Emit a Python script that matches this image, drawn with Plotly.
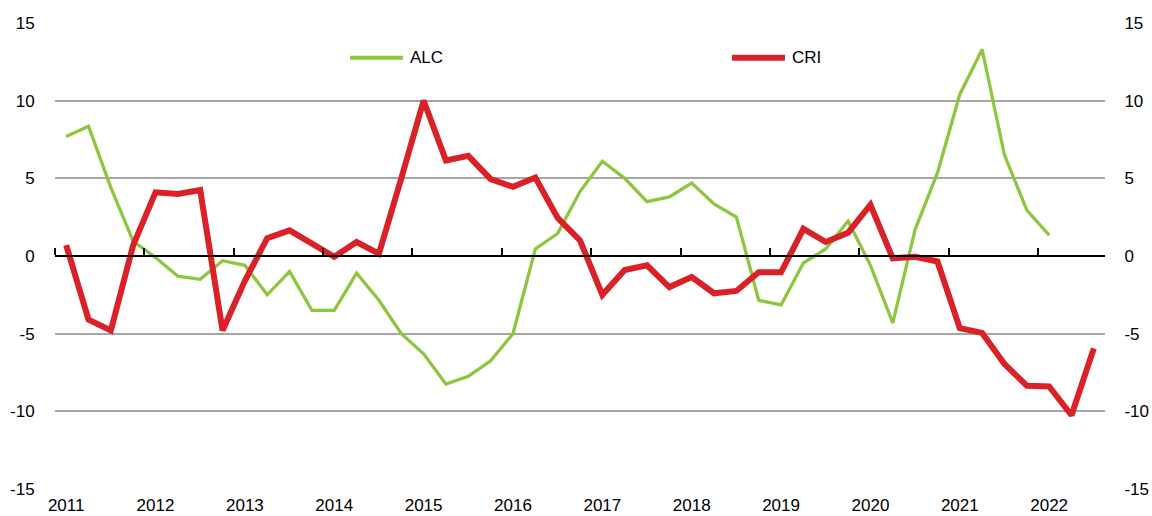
import plotly.graph_objects as go

years = ["2011", "2012", "2013", "2014", "2015", "2016", "2017", "2018", "2019", "2020", "2021", "2022"]

alc = [7.7, 8.35, 4.4, 0.95, -0.1, -1.3, -1.5, -0.3, -0.6, -2.5, -1.0, -3.5,
       -3.5, -1.1, -2.85, -5.0, -6.3, -8.25, -7.75, -6.75, -5.0, 0.45, 1.45, 4.15,
       6.1, 5.0, 3.5, 3.8, 4.7, 3.35, 2.5, -2.85, -3.15, -0.45, 0.45, 2.25,
       -0.6, -4.3, 1.7, 5.35, 10.4, 13.3, 6.5, 2.95, 1.35]

cri = [0.7, -4.1, -4.8, 0.7, 4.1, 4.0, 4.25, -4.8, -1.6, 1.15, 1.65, 0.85,
       -0.05, 0.9, 0.15, 5.0, 10.0, 6.15, 6.45, 4.95, 4.45, 5.05, 2.45, 1.0,
       -2.5, -0.9, -0.6, -2.0, -1.35, -2.4, -2.25, -1.05, -1.05, 1.75, 0.9, 1.5,
       3.3, -0.15, -0.05, -0.35, -4.65, -4.95, -6.95, -8.35, -8.4, -10.25, -5.95]

y_ticks = [-15, -10, -5, 0, 5, 10, 15]
y_labels = ["-15", "-10", "-5", "0", "5", "10", "15"]

n_q = len(cri)
x_alc = list(range(len(alc)))
x_cri = list(range(len(cri)))
year_pos = [4 * i for i in range(len(years))]
boundary_pos = [4 * i - 0.5 for i in range(len(years))]

GREEN = "#8DC63F"
RED = "#DA2128"
FONT = "Liberation Sans, Arial, sans-serif"
FS = 17
xr = [-0.5, n_q - 0.5]

fig = go.Figure()
fig.add_trace(go.Scatter(x=x_alc, y=alc, name="ALC", mode="lines",
                         line=dict(color=GREEN, width=3.3)))
fig.add_trace(go.Scatter(x=x_cri, y=cri, name="CRI", mode="lines",
                         line=dict(color=RED, width=6), yaxis="y2"))
# helper trace to activate the zero-line tick axis
fig.add_trace(go.Scatter(x=[xr[0]], y=[0], xaxis="x2", mode="lines",
                         showlegend=False, hoverinfo="skip", line=dict(width=0)))

# legend (long line keys as in the original)
legend_items = [("ALC", GREEN, 4, 0.281, 0.3314), ("CRI", RED, 6, 0.6448, 0.6952)]
leg_y = 0.9255
for name, col, w, x0, x1 in legend_items:
    fig.add_shape(type="line", xref="paper", yref="paper", x0=x0, x1=x1,
                  y0=leg_y, y1=leg_y, line=dict(color=col, width=w))
    fig.add_annotation(xref="paper", yref="paper", x=x1 + 0.0045, y=leg_y,
                       text=name, showarrow=False, xanchor="left", yanchor="middle",
                       font=dict(family=FONT, size=FS, color="black"))

fig.update_layout(
    width=1152, height=516,
    margin=dict(l=55, r=47, t=23, b=27, autoexpand=False),
    paper_bgcolor="white", plot_bgcolor="white",
    font=dict(family=FONT, size=FS, color="black"),
    showlegend=False,
    xaxis=dict(range=xr, tickmode="array", tickvals=year_pos, ticktext=years,
               showgrid=False, zeroline=False, showline=False,
               ticks="outside", ticklen=1, tickcolor="rgba(0,0,0,0)",
               automargin=False, fixedrange=True),
    xaxis2=dict(range=xr, overlaying="x", anchor="free", position=0.5, side="top",
                tickmode="array", tickvals=boundary_pos, showticklabels=False,
                ticks="outside", ticklen=7, tickwidth=2, tickcolor="black",
                showline=True, linecolor="black", linewidth=2,
                showgrid=False, zeroline=False, automargin=False),
    yaxis=dict(range=[-15, 15], tickmode="array", tickvals=y_ticks, ticktext=y_labels,
               showgrid=True, gridcolor="#A6A6A6", gridwidth=1.5,
               zeroline=False, showline=False, automargin=False,
               ticks="outside", ticklen=16, tickcolor="rgba(0,0,0,0)"),
    yaxis2=dict(range=[-15, 15], overlaying="y", side="right", tickmode="array",
                tickvals=y_ticks, ticktext=y_labels,
                showgrid=False, zeroline=False, showline=False, automargin=False,
                ticks="outside", ticklen=15, tickcolor="rgba(0,0,0,0)"),
)

fig.write_html("out.html", config={"displayModeBar": False},
               post_script="document.body.style.margin='0';document.body.style.overflow='hidden';")
